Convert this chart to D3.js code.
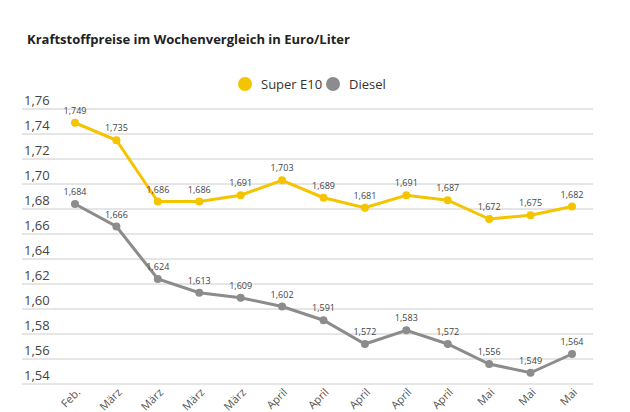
<!DOCTYPE html><html><head><meta charset="utf-8"><script src="https://cdn.jsdelivr.net/npm/d3@7"></script>
<style>body{margin:0;background:#fff;font-family:"Open Sans",sans-serif}</style></head><body><svg id="c" width="630" height="412"></svg>
<script>
const categories=["Feb.","März","März","März","März","April","April","April","April","April","Mai","Mai","Mai"];
const superE10=[1.749,1.735,1.686,1.686,1.691,1.703,1.689,1.681,1.691,1.687,1.672,1.675,1.682];
const diesel=[1.684,1.666,1.624,1.613,1.609,1.602,1.591,1.572,1.583,1.572,1.556,1.549,1.564];
const yTicks=[1.54,1.56,1.58,1.60,1.62,1.64,1.66,1.68,1.70,1.72,1.74,1.76];
const svg=d3.select("#c");
const x=d3.scalePoint().domain(d3.range(categories.length)).range([75,572]);
const y=d3.scaleLinear().domain([1.54,1.76]).range([384,109]);
const fmt=v=>v.toFixed(3).replace(".",",");
svg.append("text").attr("x",27).attr("y",44).attr("font-size",13).attr("font-weight",700).attr("fill","#222").text("Kraftstoffpreise im Wochenvergleich in Euro/Liter");
yTicks.forEach(t=>{
 svg.append("line").attr("x1",22).attr("x2",593).attr("y1",y(t)).attr("y2",y(t)).attr("stroke","#ccc");
 svg.append("text").attr("x",24).attr("y",y(t)-4).attr("font-size",13).attr("fill","#444").text(t.toFixed(2).replace(".",","));
});
categories.forEach((c,i)=>{
 svg.append("text").attr("transform",`translate(${x(i)+6},${393}) rotate(-45)`).attr("text-anchor","end").attr("font-size",11).attr("fill","#555").text(c);
});
const leg=[["Super E10","#f5c400",245],["Diesel","#8c8c8c",333]];
leg.forEach(([n,col,lx])=>{
 svg.append("circle").attr("cx",lx).attr("cy",84).attr("r",7).attr("fill",col);
 svg.append("text").attr("x",lx+16).attr("y",89).attr("font-size",13).attr("fill","#333").text(n);
});
[[superE10,"#f5c400"],[diesel,"#8c8c8c"]].forEach(([d,col])=>{
 svg.append("path").attr("d",d3.line().x((v,i)=>x(i)).y(v=>y(v))(d)).attr("fill","none").attr("stroke",col).attr("stroke-width",3);
 d.forEach((v,i)=>{
  svg.append("circle").attr("cx",x(i)).attr("cy",y(v)).attr("r",4).attr("fill",col);
  svg.append("text").attr("x",x(i)).attr("y",y(v)-9).attr("text-anchor","middle").attr("font-size",9).attr("fill","#444").text(fmt(v));
 });
});
</script></body></html>
